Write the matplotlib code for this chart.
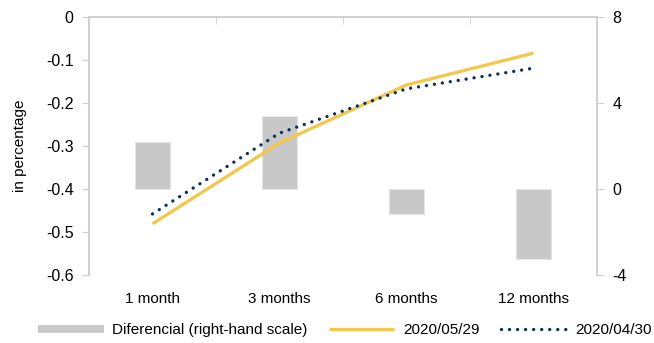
import matplotlib.pyplot as plt
from matplotlib.lines import Line2D

# data
categories = ['1 month', '3 months', '6 months', '12 months']
curve_0529 = [-0.481, -0.293, -0.158, -0.084]
curve_0430 = [-0.458, -0.270, -0.167, -0.119]
differencial = [2.2, 3.4, -1.15, -3.25]

left_ticks = [0, -0.1, -0.2, -0.3, -0.4, -0.5, -0.6]
right_ticks = [8, 4, 0, -4]

plt.rcParams['font.family'] = ['Liberation Sans', 'DejaVu Sans']

grey = '#c8c8c8'
yellow = '#f4c64a'
navy = '#0a2e5c'
axcol = '#d0d0d0'

fig = plt.figure(figsize=(6.54, 3.43), dpi=100)
ax = fig.add_axes([0.1361, 0.1983, 0.7767, 0.7521])
ax2 = ax.twinx()

x = list(range(len(categories)))

# bars on right-hand scale
ax2.bar(x, differencial, width=0.275, color=grey, edgecolor='#e4e4e4', linewidth=0.8, zorder=1)
ax2.set_ylim(-4, 8)
ax2.set_yticks(right_ticks)
ax2.set_yticklabels([str(t) for t in right_ticks])

# lines on left scale, drawn above bars
ax.set_zorder(ax2.get_zorder() + 1)
ax.patch.set_visible(False)
ax.plot(x, curve_0529, color=yellow, lw=2.3, solid_capstyle='butt')
ax.plot(x, curve_0430, color=navy, lw=2.4, linestyle=(0, (0.01, 2.4)), dash_capstyle='round')
ax.set_ylim(-0.6, 0)
ax.set_xlim(-0.5, 3.5)
ax.set_yticks(left_ticks)
ax.set_yticklabels(['0' if t == 0 else '%.1f' % t for t in left_ticks])
ax.set_ylabel('in percentage', fontsize=11, labelpad=14)

# x axis sits at value 0 (top), labels at the bottom
ax.set_xticks(x)
ax.set_xticklabels(categories)
ax.set_xticks([-0.5, 0.5, 1.5, 2.5, 3.5], minor=True)
ax.tick_params(axis='x', which='major', length=0, pad=12, labelsize=11)
ax.tick_params(axis='x', which='minor', top=True, bottom=False, direction='in', length=5, color=axcol)
ax.tick_params(axis='y', length=5, color=axcol, labelsize=11.5, pad=6)
ax2.tick_params(axis='y', length=5, color=axcol, labelsize=11.5, pad=6)
ax2.tick_params(axis='x', length=0)

for a in (ax, ax2):
    a.spines['bottom'].set_visible(False)
    for s in ('top', 'left', 'right'):
        a.spines[s].set_color(axcol)
        a.spines[s].set_linewidth(1.2)

handles = [
    Line2D([], [], color=grey, lw=5.5, solid_capstyle='butt'),
    Line2D([], [], color=yellow, lw=2.3, solid_capstyle='butt'),
    Line2D([], [], color=navy, lw=2.4, linestyle=(0, (0.01, 2.4)), dash_capstyle='round'),
]
labels = ['Diferencial (right-hand scale)', '2020/05/29', '2020/04/30']
fig.legend(handles, labels, loc='center', bbox_to_anchor=(0.527, 0.038), ncol=3,
           frameon=False, fontsize=11, handlelength=4.3, columnspacing=1.4,
           handletextpad=0.55, borderpad=0.1, borderaxespad=0)

fig.savefig('out.png', dpi=100)
